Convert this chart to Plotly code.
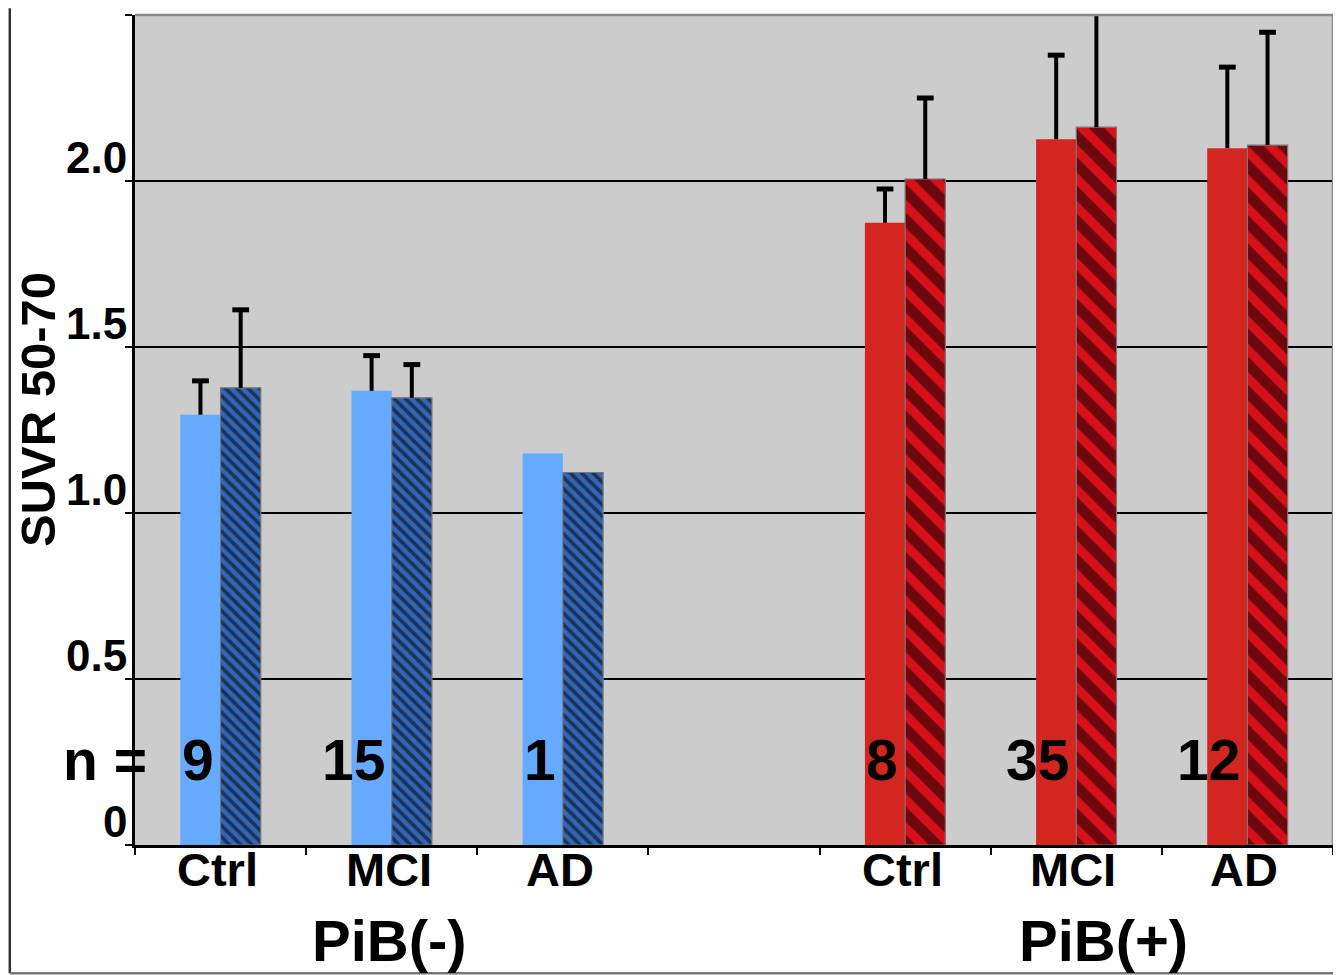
import plotly.graph_objects as go

# ---------------- data ----------------
slot_labels = ["Ctrl", "MCI", "AD", "", "Ctrl", "MCI", "AD"]
group_labels = ["PiB(-)", "PiB(+)"]
y_tick_values = [0, 0.5, 1.0, 1.5, 2.0]
y_tick_labels = ["0", "0.5", "1.0", "1.5", "2.0"]
y_title = "SUVR 50-70"

neg_slots = [0, 1, 2]
pos_slots = [4, 5, 6]

neg_solid = [1.296, 1.368, 1.179]
neg_solid_err = [0.102, 0.106, None]
neg_hatch = [1.377, 1.347, 1.122]
neg_hatch_err = [0.235, 0.100, None]

pos_solid = [1.874, 2.126, 2.099]
pos_solid_err = [0.102, 0.253, 0.244]
pos_hatch = [2.006, 2.162, 2.108]
pos_hatch_err = [0.244, 0.370, 0.340]

n_neg = [9, 15, 1]
n_pos = [8, 35, 12]

# ---------------- style ----------------
FONT = "Liberation Sans, Arial, sans-serif"
BW = 0.235
BLUE = "#66aaff"
BLUE_H = "#3566b4"
RED = "#d42620"
RED_H = "#d8101a"

fig = go.Figure()


def add_bar(slots, vals, offset, color, pattern=None):
    marker = dict(color=color, line=dict(width=0))
    if pattern is not None:
        marker["pattern"] = pattern
        marker["line"] = dict(width=1.2, color="#777777")
    fig.add_trace(go.Bar(x=slots, y=vals, width=BW, offset=offset,
                         marker=marker, showlegend=False, hoverinfo="y"))


def add_err(slots, vals, errs, offset):
    xs, ys, cx, cy = [], [], [], []
    for s, v, e in zip(slots, vals, errs):
        if e is None:
            continue
        xc = s + offset + BW / 2
        xs += [xc, xc, None]
        ys += [v, v + e, None]
        cx.append(xc)
        cy.append(v + e)
    fig.add_trace(go.Scatter(x=xs, y=ys, mode="lines",
                             line=dict(color="black", width=4),
                             showlegend=False, hoverinfo="skip"))
    fig.add_trace(go.Scatter(x=cx, y=cy, mode="markers",
                             marker=dict(symbol="line-ew", size=12,
                                         line=dict(color="black", width=5)),
                             showlegend=False, hoverinfo="skip"))


add_bar(neg_slots, neg_solid, -BW, BLUE)
add_bar(neg_slots, neg_hatch, 0, BLUE_H,
        dict(shape="\\", fgcolor="#000000", bgcolor=BLUE_H, size=8, solidity=0.45))
add_bar(pos_slots, pos_solid, -BW, RED)
add_bar(pos_slots, pos_hatch, 0, RED_H,
        dict(shape="\\", fgcolor="black", bgcolor=RED_H, size=20, solidity=0.55))

add_err(neg_slots, neg_solid, neg_solid_err, -BW)
add_err(neg_slots, neg_hatch, neg_hatch_err, 0)
add_err(pos_slots, pos_solid, pos_solid_err, -BW)
add_err(pos_slots, pos_hatch, pos_hatch_err, 0)

annotations = []
# y tick labels (placed above their gridlines as in the reference)
for v, t in zip(y_tick_values, y_tick_labels):
    annotations.append(dict(x=0, xref="paper", xanchor="right", xshift=-6,
                            y=v, yref="y", yanchor="middle", yshift=24,
                            text=t, showarrow=False,
                            font=dict(family=FONT, size=44, color="black", weight="bold")))

# category labels under the axis
for i, lab in enumerate(slot_labels):
    if lab:
        annotations.append(dict(x=i, xref="x", xanchor="center", xshift=-3,
                                y=-0.029, yref="paper", yanchor="middle", text=lab,
                                showarrow=False,
                                font=dict(family=FONT, size=47, color="black", weight="bold")))

# n labels
N_Y = 0.256
annotations.append(dict(x=-0.5, xref="x", xanchor="right", xshift=14,
                        y=N_Y, yref="y", yanchor="middle", text="n =",
                        showarrow=False,
                        font=dict(family=FONT, size=57, color="black", weight="bold")))
for s, n in zip(neg_slots + pos_slots, n_neg + n_pos):
    annotations.append(dict(x=s, xref="x", xanchor="right", xshift=-5,
                            y=N_Y, yref="y", yanchor="middle", text=str(n),
                            showarrow=False,
                            font=dict(family=FONT, size=57, color="black", weight="bold")))

# group labels
for slots, lab, shift in [(neg_slots, group_labels[0], -2), (pos_slots, group_labels[1], 27)]:
    annotations.append(dict(x=sum(slots) / len(slots), xref="x", xanchor="center", xshift=shift,
                            y=-0.1145, yref="paper", yanchor="middle", text=lab,
                            showarrow=False,
                            font=dict(family=FONT, size=58, color="black", weight="bold")))

# y axis title
annotations.append(dict(x=0, xref="paper", xshift=-97, xanchor="center",
                        y=0.524, yref="paper", yanchor="middle", text=y_title,
                        textangle=-90, showarrow=False,
                        font=dict(family=FONT, size=49, color="black", weight="bold")))

shapes = [
    # plot-area top and right border (gray)
    dict(type="line", xref="paper", yref="paper", x0=0, x1=1, y0=1, y1=1,
         line=dict(color="#8a8a8a", width=2.5), layer="above"),
    dict(type="line", xref="paper", yref="paper", x0=1, x1=1, y0=0, y1=1,
         line=dict(color="#8a8a8a", width=2.5), layer="above"),
    # outer frame (left and bottom)
    dict(type="line", xref="paper", yref="paper", x0=-0.1045, x1=-0.1045, y0=-0.1545, y1=1.008,
         line=dict(color="#333333", width=2.5), layer="above"),
    dict(type="line", xref="paper", yref="paper", x0=-0.1045, x1=1.01, y0=-0.1545, y1=-0.1545,
         line=dict(color="#777777", width=2.5), layer="above"),
]

# the page adds an 8 px body margin, so the figure is 8 px smaller and
# its margins are shifted accordingly
fig.update_layout(
    width=1333, height=967,
    margin=dict(l=127, r=8, t=7, b=130),
    paper_bgcolor="white",
    plot_bgcolor="#cccccc",
    showlegend=False,
    annotations=annotations,
    shapes=shapes,
    font=dict(family=FONT, color="black"),
    xaxis=dict(
        range=[-0.5, 6.5],
        tickmode="array",
        tickvals=list(range(len(slot_labels))),
        ticktext=slot_labels,
        showticklabels=False,
        ticks="",
        showgrid=False, zeroline=False,
        showline=True, linecolor="black", linewidth=2.5,
        minor=dict(tickmode="array",
                   tickvals=[i - 0.5 for i in range(len(slot_labels) + 1)],
                   ticks="outside", ticklen=7, tickwidth=2, tickcolor="black",
                   showgrid=False),
        fixedrange=True,
    ),
    yaxis=dict(
        range=[0, 2.5],
        tickmode="array",
        tickvals=y_tick_values + [2.5],
        showticklabels=False,
        ticks="outside", ticklen=7, tickwidth=2, tickcolor="black",
        showgrid=True, gridcolor="black", gridwidth=2,
        zeroline=False,
        showline=True, linecolor="black", linewidth=2.5,
        fixedrange=True,
    ),
)

fig.write_html("out.html")
